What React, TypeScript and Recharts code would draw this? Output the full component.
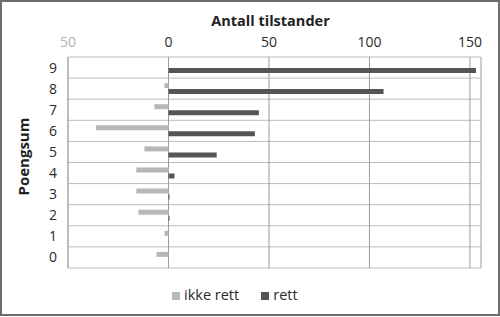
import {
  BarChart,
  Bar,
  XAxis,
  YAxis,
  CartesianGrid,
  Legend,
} from "recharts";

const categories = ["0", "1", "2", "3", "4", "5", "6", "7", "8", "9"];
const ikkeRett = [-6, -2, -15, -16, -16, -12, -36, -7, -2, 0];
const rett = [0, 0, 0.5, 0.5, 3, 24, 43, 45, 107, 153];
const xTicks = [-50, 0, 50, 100, 150];

const data = categories.map((c, i) => ({
  poeng: c,
  ikkeRett: ikkeRett[i],
  rett: rett[i],
}));

const FONT = "'Open Sans', 'Noto Sans', sans-serif";

function XTick(props: any) {
  const { x, y, payload } = props;
  const v = payload.value as number;
  return (
    <text
      x={x}
      y={y}
      textAnchor="middle"
      fontSize={14}
      fontFamily={FONT}
      fill={v < 0 ? "#b4b4b4" : "#2a2a2a"}
    >
      {Math.abs(v)}
    </text>
  );
}

// horizontal lines on the category boundaries (Excel style), not on the centers
const rowBoundaries = ({ offset }: any) =>
  Array.from(
    { length: categories.length + 1 },
    (_, i) => offset.top + (i * offset.height) / categories.length
  );

export default function App() {
  return (
    <div style={{ position: "absolute", left: 0, top: 0, width: 500, height: 317 }}>
      <BarChart
        width={500}
        height={317}
        data={data}
        layout="vertical"
        margin={{ top: 27, right: 19, left: 0, bottom: 30 }}
        barSize={5}
        barGap={1}
        style={{ fontFamily: FONT }}
      >
        <CartesianGrid
          horizontal
          vertical={false}
          horizontalCoordinatesGenerator={rowBoundaries}
          stroke="#bcbcbc"
        />
        <CartesianGrid horizontal={false} vertical stroke="#9c9c9c" />
        <XAxis
          type="number"
          orientation="top"
          domain={[-50, 155.5]}
          ticks={xTicks}
          allowDataOverflow
          height={30}
          axisLine={false}
          tickLine={false}
          tickSize={0}
          tickMargin={10}
          tick={<XTick />}
          label={{
            value: "Antall tilstander",
            position: "top",
            offset: 1,
            dx: -4,
            fontSize: 14.5,
            fontWeight: 700,
            fill: "#222",
          }}
        />
        <YAxis
          type="category"
          dataKey="poeng"
          reversed
          width={68}
          interval={0}
          axisLine={{ stroke: "#acacac" }}
          tickLine={false}
          tickSize={0}
          tickMargin={11}
          tick={{ fill: "#2a2a2a", fontSize: 14 }}
          label={{
            value: "Poengsum",
            angle: -90,
            position: "insideLeft",
            offset: 24,
            dy: 33,
            fontSize: 15,
            fontWeight: 700,
            fill: "#222",
          }}
        />
        <Legend
          verticalAlign="bottom"
          align="left"
          iconType="square"
          iconSize={8}
          wrapperStyle={{
            left: 172,
            top: 285,
            width: "auto",
            fontSize: 14.5,
            color: "#2a2a2a",
          }}
          formatter={(v: string) => (
            <span style={{ color: "#2a2a2a", marginRight: 12 }}>{v}</span>
          )}
        />
        <Bar
          dataKey="ikkeRett"
          name="ikke rett"
          fill="#b7b7b7"
          isAnimationActive={false}
        />
        <Bar dataKey="rett" name="rett" fill="#555555" isAnimationActive={false} />
      </BarChart>
      <div
        style={{
          position: "absolute",
          left: 0,
          top: 0,
          width: 500,
          height: 316,
          boxSizing: "border-box",
          border: "2px solid #6e6e6e",
          pointerEvents: "none",
        }}
      />
    </div>
  );
}
